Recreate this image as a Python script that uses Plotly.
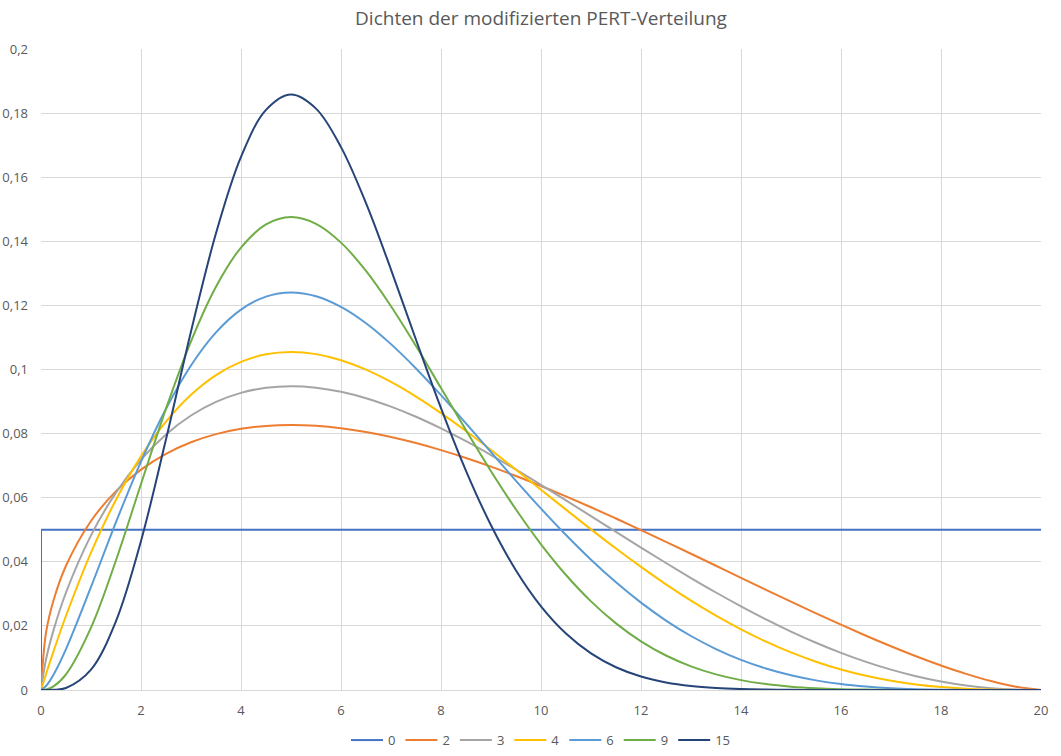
import plotly.graph_objects as go

x = [0, 0.1, 0.25, 0.5, 1, 1.5, 2, 2.5, 3, 3.5, 4, 4.5, 5, 5.5, 6, 6.5, 7, 7.5, 8, 8.5,
     9, 9.5, 10, 10.5, 11, 11.5, 12, 12.5, 13, 13.5, 14, 14.5, 15, 15.5, 16, 16.5,
     17, 17.5, 18, 18.5, 19, 19.5, 20]

# gamma = 0 (uniform)
x_0 = [0, 0, 20]
y_0 = [0, 0.05, 0.05]

y_2 = [0, 0.01787, 0.02794, 0.03876, 0.05272, 0.06204, 0.06876, 0.07369, 0.07729, 0.07983,
       0.08149, 0.08241, 0.08270, 0.08244, 0.08169, 0.08051, 0.07895, 0.07705, 0.07485, 0.07238,
       0.06968, 0.06676, 0.06366, 0.06040, 0.05701, 0.05350, 0.04990, 0.04623, 0.04251, 0.03876,
       0.03501, 0.03127, 0.02757, 0.02393, 0.02037, 0.01693, 0.01364, 0.01053, 0.00764, 0.00503,
       0.00278, 0.00099, 0]
y_3 = [0, 0.00952, 0.01861, 0.03042, 0.04825, 0.06159, 0.07186, 0.07973, 0.08564, 0.08989,
       0.09271, 0.09429, 0.09479, 0.09434, 0.09305, 0.09105, 0.08841, 0.08525, 0.08162, 0.07762,
       0.07331, 0.06876, 0.06402, 0.05917, 0.05426, 0.04932, 0.04443, 0.03962, 0.03494, 0.03042,
       0.02611, 0.02204, 0.01824, 0.01475, 0.01159, 0.00878, 0.00635, 0.00431, 0.00266, 0.00142,
       0.00058, 0.00013, 0]
y_4 = [0, 0.00493, 0.01204, 0.02317, 0.04287, 0.05936, 0.07290, 0.08374, 0.09212, 0.09827,
       0.10240, 0.10473, 0.10547, 0.10480, 0.10290, 0.09995, 0.09612, 0.09155, 0.08640, 0.08080,
       0.07487, 0.06873, 0.06250, 0.05627, 0.05012, 0.04414, 0.03840, 0.03296, 0.02787, 0.02317,
       0.01890, 0.01508, 0.01172, 0.00883, 0.00640, 0.00442, 0.00287, 0.00171, 0.00090, 0.00039,
       0.00012, 0.00002, 0]
y_6 = [0, 0.00125, 0.00478, 0.01278, 0.03215, 0.05238, 0.07128, 0.08776, 0.10126, 0.11156,
       0.11867, 0.12275, 0.12405, 0.12286, 0.11954, 0.11444, 0.10792, 0.10033, 0.09198, 0.08318,
       0.07419, 0.06526, 0.05659, 0.04834, 0.04064, 0.03359, 0.02725, 0.02167, 0.01685, 0.01278,
       0.00941, 0.00671, 0.00460, 0.00300, 0.00185, 0.00107, 0.00056, 0.00026, 0.00010, 0.00003,
       0, 0, 0]
y_9 = [0, 0.00015, 0.00112, 0.00488, 0.01946, 0.04048, 0.06428, 0.08780, 0.10881, 0.12584,
       0.13806, 0.14525, 0.14755, 0.14544, 0.13959, 0.13075, 0.11974, 0.10732, 0.09420, 0.08101,
       0.06825, 0.05631, 0.04546, 0.03589, 0.02766, 0.02079, 0.01519, 0.01077, 0.00739, 0.00488,
       0.00308, 0.00185, 0.00105, 0.00056, 0.00027, 0.00012, 0.00004, 0.00001, 0, 0,
       0, 0, 0]
y_15 = [0, 0, 0.00005, 0.00063, 0.00635, 0.02152, 0.04651, 0.07822, 0.11185, 0.14250,
        0.16632, 0.18099, 0.18580, 0.18140, 0.16939, 0.15190, 0.13118, 0.10929, 0.08795, 0.06840,
        0.05140, 0.03730, 0.02611, 0.01761, 0.01141, 0.00709, 0.00420, 0.00237, 0.00126, 0.00063,
        0.00029, 0.00013, 0.00005, 0.00002, 0.00001, 0, 0, 0, 0, 0,
        0, 0, 0]

names = ["2", "3", "4", "6", "9", "15"]
series = [y_2, y_3, y_4, y_6, y_9, y_15]
colors = ["#ED7D31", "#A5A5A5", "#FFC000", "#5B9BD5", "#70AD47", "#264478"]

fig = go.Figure()
fig.add_trace(go.Scatter(x=x_0, y=y_0, mode="lines", name="0",
                         line=dict(color="#4472C4", width=2)))
for name, ys, col in zip(names, series, colors):
    fig.add_trace(go.Scatter(x=x, y=ys, mode="lines", name=name,
                             line=dict(color=col, width=2, shape="spline", smoothing=1.0)))

grid = "#D9D9D9"
fig.update_layout(
    width=1061, height=756,
    paper_bgcolor="white", plot_bgcolor="white",
    separators=", ",
    font=dict(family="Open Sans", size=13, color="#595959"),
    title=dict(text="Dichten der modifizierten PERT-Verteilung", x=0.5, xanchor="center",
               xref="paper", y=0.976, yanchor="middle", font=dict(size=19, color="#595959")),
    margin=dict(l=41, r=20, t=49, b=66),
    showlegend=True,
    legend=dict(orientation="h", x=0.5, xanchor="center", xref="paper",
                y=0.021, yanchor="middle", yref="container",
                font=dict(size=13, color="#595959"), itemwidth=32,
                tracegroupgap=0),
    xaxis=dict(range=[0, 20], tickmode="linear", dtick=2, tick0=0, automargin=False,
               showgrid=True, gridcolor=grid, gridwidth=1,
               showline=True, linecolor=grid, zeroline=False,
               ticks="", ticklabelstandoff=8),
    yaxis=dict(range=[0, 0.2], tickmode="linear", dtick=0.02, tick0=0, automargin=False,
               showgrid=True, gridcolor=grid, gridwidth=1,
               showline=False, zeroline=False, ticks="",
               ticklabelstandoff=12),
)

# drop the default 8px page margin so the figure sits at the window's corner
fig.write_html("out.html", config={"displayModeBar": False},
               post_script="document.body.style.margin='0';")
